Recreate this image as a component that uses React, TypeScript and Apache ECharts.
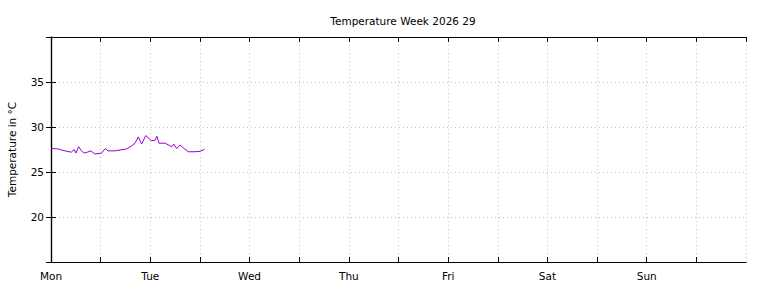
import React, { useEffect, useRef } from "react";
import * as echarts from "echarts";

const title = "Temperature Week 2026 29";
const yAxisName = "Temperature in °C";
const dayLabels = ["Mon", "Tue", "Wed", "Thu", "Fri", "Sat", "Sun"];
const hours = [
  0, 1.7, 2.9, 4.9, 5.6, 6.0, 6.7, 7.3, 8.0, 8.8, 9.6, 10.6, 12.2, 13.1, 13.8, 15.4,
  18.2, 19.5, 20.3, 21.1, 21.9, 22.9, 24.2, 25.1, 25.6, 26.1, 27.6, 28.4, 29.2, 29.7,
  30.4, 31.2, 32.2, 33.2, 34.8, 36.0, 37.1,
];
const temps = [
  27.63, 27.56, 27.4, 27.2, 27.5, 27.1, 27.8, 27.4, 27.1, 27.2, 27.35, 27.0, 27.1, 27.6,
  27.35, 27.35, 27.55, 27.9, 28.2, 28.9, 28.1, 29.05, 28.5, 28.5, 28.97, 28.2, 28.2, 28.0,
  27.8, 28.1, 27.6, 28.0, 27.6, 27.25, 27.25, 27.3, 27.5,
];

const FONT = "DejaVu Sans";

export default function App() {
  const ref = useRef<HTMLDivElement>(null);
  useEffect(() => {
    if (!ref.current) return;
    const chart = echarts.init(ref.current, undefined, { renderer: "svg" });
    const tickStyle = { inside: true, length: 5, lineStyle: { color: "#000", width: 1 } };
    const lineStyle = { show: true, lineStyle: { color: "#000", width: 1.2 } };
    const gridLine = { show: true, lineStyle: { color: "#c4c4c4", width: 1, type: [1, 3] as any } };
    chart.setOption({
      animation: false,
      backgroundColor: "#fff",
      title: {
        text: title,
        left: 398,
        textAlign: "center",
        top: 10,
        textStyle: { fontFamily: FONT, fontSize: 10.5, fontWeight: "normal", color: "#000" },
      },
      grid: { left: 51, right: 22, top: 37, bottom: 26, containLabel: false, outerBoundsMode: "none" },
      xAxis: [
        {
          type: "value",
          min: 0,
          max: 168,
          interval: 12,
          position: "bottom",
          axisLine: lineStyle,
          axisTick: tickStyle,
          splitLine: gridLine,
          axisLabel: {
            margin: 8,
            fontFamily: FONT,
            fontSize: 10.5,
            color: "#000",
            showMaxLabel: false,
            formatter: (v: number) => (v % 24 === 0 && v < 168 ? dayLabels[v / 24] : ""),
          },
        },
        {
          type: "value",
          min: 0,
          max: 168,
          interval: 12,
          position: "top",
          axisLine: lineStyle,
          axisTick: tickStyle,
          splitLine: { show: false },
          axisLabel: { show: false },
        },
      ],
      yAxis: [
        {
          type: "value",
          min: 15,
          max: 40,
          interval: 5,
          position: "left",
          name: yAxisName,
          nameLocation: "middle",
          nameGap: 34,
          nameTextStyle: { fontFamily: FONT, fontSize: 10.5, color: "#000" },
          axisLine: lineStyle,
          axisTick: tickStyle,
          splitLine: gridLine,
          axisLabel: {
            margin: 7,
            fontFamily: FONT,
            fontSize: 10.5,
            color: "#000",
            formatter: (v: number) => (v === 15 || v === 40 ? "" : String(v)),
          },
        },
        {
          type: "value",
          min: 15,
          max: 40,
          interval: 5,
          position: "right",
          axisLine: lineStyle,
          axisTick: tickStyle,
          splitLine: { show: false },
          axisLabel: { show: false },
        },
      ],
      series: [
        {
          type: "line",
          data: hours.map((h, i) => [h, temps[i]]),
          showSymbol: false,
          symbol: "none",
          lineStyle: { color: "#9400d3", width: 1 },
          itemStyle: { color: "#9400d3" },
        },
      ],
    });
    return () => chart.dispose();
  }, []);
  return <div ref={ref} style={{ width: 768, height: 288, position: "absolute", left: 0, top: 0 }} />;
}
